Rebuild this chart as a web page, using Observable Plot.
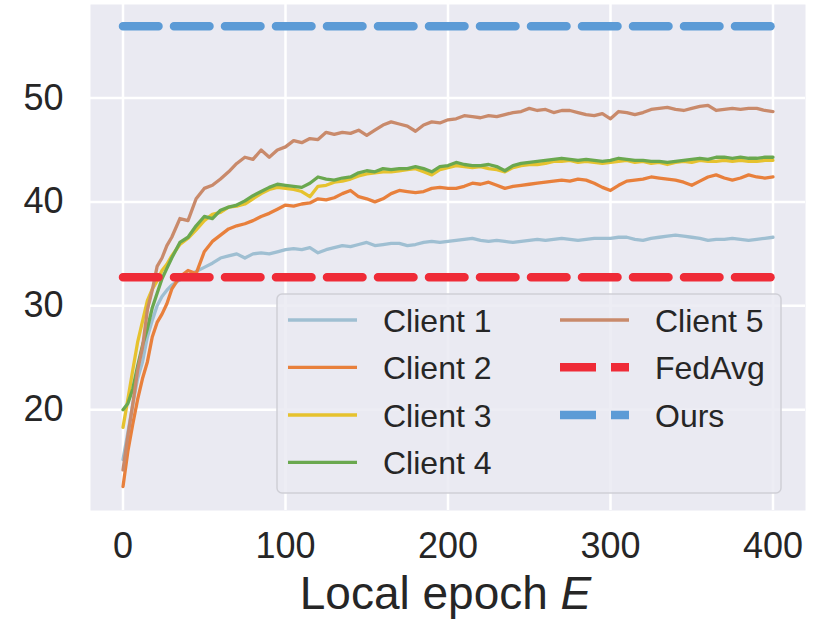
<!DOCTYPE html>
<html><head><meta charset="utf-8">
<script src="https://cdn.jsdelivr.net/npm/d3@7"></script>
<script src="https://cdn.jsdelivr.net/npm/@observablehq/plot@0.6"></script>
<style>
body{margin:0;background:#fff;}
#wrap{position:relative;width:830px;height:623px;font-family:"Liberation Sans",Arial,sans-serif;}
</style>
</head><body><div id="wrap"></div>
<script>
const epochs = [0,3,6,9,12,15,18,21,24,27,30,35,40,45,50,55,60,65,70,75,80,85,90,95,100,105,110,115,120,125,130,135,140,145,150,155,160,165,170,175,180,185,190,195,200,205,210,215,220,225,230,235,240,245,250,255,260,265,270,275,280,285,290,295,300,305,310,315,320,325,330,335,340,345,350,355,360,365,370,375,380,385,390,395,400];

const client1 = [15.2,17.8,20.5,23.0,24.6,27.0,28.6,30.0,30.9,31.5,32.0,32.5,32.9,33.3,33.7,34.1,34.6,34.8,35.0,34.6,35.0,35.1,35.0,35.2,35.4,35.5,35.4,35.6,35.1,35.4,35.6,35.8,35.7,35.9,36.1,35.8,35.9,36.0,36.0,35.8,35.9,36.1,36.2,36.1,36.2,36.3,36.4,36.5,36.3,36.2,36.3,36.2,36.1,36.2,36.3,36.4,36.3,36.4,36.5,36.4,36.3,36.4,36.5,36.5,36.5,36.6,36.6,36.4,36.3,36.5,36.6,36.7,36.8,36.7,36.6,36.5,36.3,36.4,36.4,36.5,36.4,36.3,36.4,36.5,36.6];

const client2 = [12.6,16.0,18.6,21.0,23.0,24.6,27.0,28.4,29.2,30.2,31.6,32.8,33.4,33.1,35.2,36.2,36.8,37.4,37.7,37.9,38.2,38.6,38.9,39.3,39.7,39.6,39.8,39.9,40.3,40.2,40.4,40.8,41.1,40.5,40.3,40.0,40.3,40.8,41.1,41.0,40.9,41.0,41.3,41.4,41.3,41.3,41.5,41.8,41.7,41.9,41.6,41.3,41.5,41.6,41.7,41.8,41.9,42.0,42.1,42.0,42.2,42.1,41.8,41.4,41.1,41.6,42.0,42.1,42.2,42.4,42.3,42.2,42.1,41.9,41.6,42.0,42.4,42.6,42.3,42.1,42.3,42.6,42.4,42.3,42.4];

const client3 = [18.3,21.0,23.8,26.5,28.5,30.5,31.6,32.4,33.4,34.0,34.8,35.9,36.5,37.3,38.2,38.8,39.0,39.5,39.6,39.8,40.3,40.8,41.2,41.4,41.3,41.2,41.0,40.5,41.5,41.6,41.9,42.0,42.2,42.5,42.7,42.8,42.9,42.9,43.0,43.1,43.2,42.9,42.6,43.1,43.3,43.5,43.4,43.3,43.4,43.2,43.1,42.9,43.3,43.5,43.6,43.6,43.7,43.9,43.9,44.0,43.8,43.9,43.8,43.7,43.8,43.9,44.0,43.8,43.9,43.7,43.8,43.6,43.8,43.9,43.8,44.0,43.9,43.9,44.0,43.9,44.0,43.9,43.9,44.0,44.0];

const client4 = [20.0,20.6,22.0,24.2,26.2,27.8,29.8,31.2,32.6,33.6,34.6,36.1,36.6,37.7,38.6,38.4,39.2,39.5,39.7,40.1,40.6,41.0,41.4,41.7,41.6,41.5,41.4,41.8,42.4,42.2,42.1,42.3,42.4,42.8,43.0,42.9,43.2,43.1,43.2,43.2,43.4,43.2,42.9,43.4,43.5,43.8,43.6,43.5,43.5,43.6,43.4,43.0,43.5,43.7,43.8,43.9,44.0,44.1,44.2,44.1,44.0,44.1,44.0,43.9,44.0,44.2,44.1,44.0,44.0,43.9,43.9,43.8,43.9,44.0,44.1,44.2,44.1,44.3,44.3,44.2,44.3,44.2,44.2,44.3,44.3];

const client5 = [14.2,17.5,20.5,23.8,26.0,29.6,31.5,33.8,34.6,35.8,36.6,38.4,38.2,40.3,41.3,41.6,42.2,42.9,43.7,44.3,44.1,45.0,44.3,45.0,45.3,45.9,45.7,46.1,46.0,46.7,46.5,46.7,46.6,46.9,46.4,46.9,47.4,47.7,47.5,47.3,46.8,47.4,47.7,47.6,47.9,48.0,48.3,48.2,48.1,48.3,48.2,48.4,48.6,48.7,49.0,48.8,48.9,48.6,48.8,48.8,48.6,48.4,48.3,48.5,48.0,48.7,48.6,48.4,48.6,48.9,49.0,49.1,48.9,48.8,49.0,49.2,49.3,48.8,48.9,49.0,48.9,49.0,49.0,48.8,48.7];

const fedAvgAcc = 32.75;
const oursAcc = 56.9;

const clientNames = ["Client 1","Client 2","Client 3","Client 4","Client 5"];
const clientColors = ["#9fbfd2","#e8803c","#e6c22e","#6aa84f","#c98a6b"];
const baselineNames = ["FedAvg","Ours"];
const baselineColors = ["#ef2b37","#5c9bd6"];
const xTicks = [0,100,200,300,400];
const yTicks = [20,30,40,50];

const clientSeries = [client1, client2, client3, client4, client5];
const rows = [];
clientSeries.forEach((vals, i) => vals.forEach((v, j) => rows.push({epoch: epochs[j], acc: v, name: clientNames[i]})));
const baseVals = [fedAvgAcc, oursAcc];
const baseRows = baselineNames.map((n, i) => [
  {epoch: epochs[0], acc: baseVals[i], name: n},
  {epoch: epochs[epochs.length - 1], acc: baseVals[i], name: n}
]);

const W = 830, H = 623, mL = 90, mR = 25, mT = 4, mB = 113;

const chart = Plot.plot({
  width: W, height: H,
  marginLeft: mL, marginRight: mR, marginTop: mT, marginBottom: mB,
  x: {domain: [-20, 420]},
  y: {domain: [10.3, 59.0]},
  color: {domain: clientNames, range: clientColors},
  style: {fontFamily: "Liberation Sans, Arial, sans-serif", color: "#262626", background: "white", overflow: "visible"},
  marks: [
    Plot.frame({fill: "#eaeaf2", stroke: null}),
    Plot.gridX(xTicks, {stroke: "white", strokeOpacity: 1, strokeWidth: 2.5}),
    Plot.gridY(yTicks, {stroke: "white", strokeOpacity: 1, strokeWidth: 2.5}),
    Plot.axisX(xTicks, {tickSize: 0, tickPadding: 22, fontSize: 36, label: null, fill: "#262626"}),
    Plot.axisY(yTicks, {tickSize: 0, tickPadding: 27, fontSize: 36, label: null, fill: "#262626"}),
    Plot.line(rows, {x: "epoch", y: "acc", z: "name", stroke: "name", strokeWidth: 3.3, strokeLinejoin: "round"}),
    ...baseRows.map((r, i) => Plot.line(r, {x: "epoch", y: "acc", stroke: baselineColors[i], strokeWidth: 8.5, strokeDasharray: "35.5,15.5"}))
  ]
});

document.getElementById("wrap").appendChild(chart);

const svg = d3.select(chart);
// x-axis title
const xl = svg.append("text")
  .attr("x", mL + (W - mL - mR) / 2 - 2)
  .attr("y", 609)
  .attr("text-anchor", "middle")
  .attr("font-size", 46)
  .attr("fill", "#262626")
  .attr("font-family", "Liberation Sans, Arial, sans-serif");
xl.append("tspan").text("Local epoch ");
xl.append("tspan").attr("font-style", "italic").text("E");

// legend
const lg = svg.append("g").attr("transform", "translate(277,294)");
lg.append("rect").attr("width", 504).attr("height", 199).attr("rx", 5)
  .attr("fill", "#eaeaf2").attr("fill-opacity", 0.85)
  .attr("stroke", "#cfcfd6").attr("stroke-width", 1.5);
const rowY = [26, 73.3, 121, 168.3];
const entries = [
  ...clientNames.map((n, i) => ({name: n, color: clientColors[i], dashed: false})),
  ...baselineNames.map((n, i) => ({name: n, color: baselineColors[i], dashed: true}))
];
entries.forEach((e, k) => {
  const col = k < 4 ? 0 : 1;
  const row = k < 4 ? k : k - 4;
  const hx = col === 0 ? 11 : 283;
  const tx = col === 0 ? 106 : 378;
  const y = rowY[row];
  lg.append("line").attr("x1", hx).attr("x2", hx + 69).attr("y1", y).attr("y2", y)
    .attr("stroke", e.color).attr("stroke-width", e.dashed ? 8.5 : 3.3)
    .attr("stroke-dasharray", e.dashed ? "36,15" : null);
  lg.append("text").attr("x", tx).attr("y", y).attr("dy", "0.36em")
    .attr("text-anchor", "start")
    .attr("font-size", 32).attr("fill", "#262626")
    .attr("font-family", "Liberation Sans, Arial, sans-serif")
    .text(e.name);
});
</script>
</body></html>
